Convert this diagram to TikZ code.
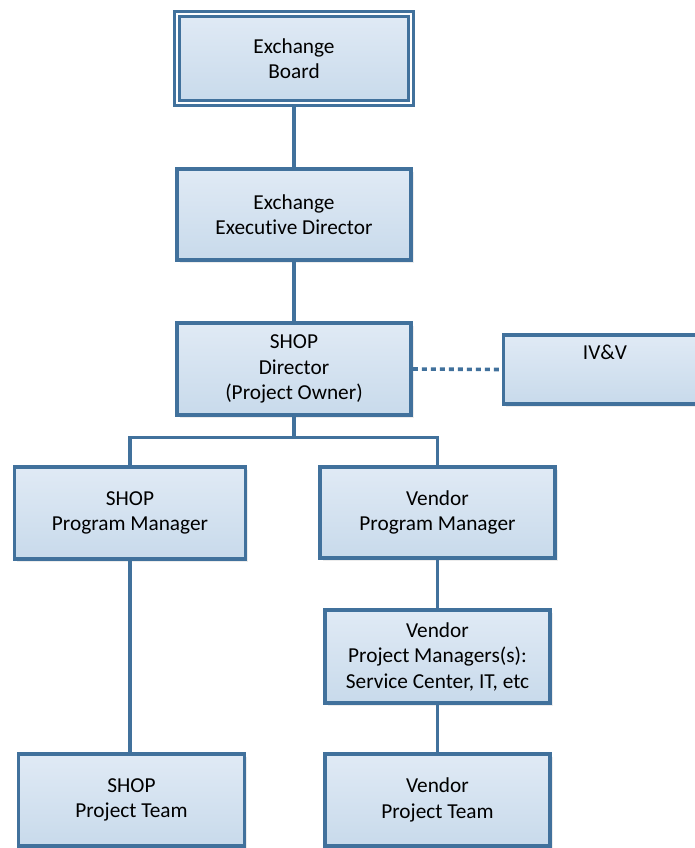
\documentclass[tikz,border=0pt]{standalone}
\usepackage{fontspec}
\setmainfont[Ligatures=NoCommon]{Carlito}
\usetikzlibrary{shadows}
\definecolor{orgline}{HTML}{41719C}
\definecolor{orgtop}{HTML}{E0EAF5}
\definecolor{orgbot}{HTML}{C8DAEB}

\begin{document}
\begin{tikzpicture}[x=1pt, y=-1pt,
      every node/.style={font=\fontsize{21.3}{25.5}\selectfont},
      unit/.style={draw=orgline, line width=3.8pt, top color=orgtop, bottom color=orgbot,
        align=center, inner sep=0pt,
        drop shadow={opacity=0.15, shadow xshift=2.5pt, shadow yshift=-2.5pt}},
      board/.style={line width=3pt, double=white, double distance=1.5pt},
      link/.style={draw=orgline, line width=3.6pt},
    ]
    \useasboundingbox (0,0) rectangle (694,848);

    % chain of command
    \node[unit, board, minimum width=234, minimum height=89] (board) at (294,58.5) {Exchange\\Board};
    \node[unit, minimum width=234, minimum height=91] (exec) at (294,214.5) {Exchange\\Executive Director};
    \node[unit, minimum width=234, minimum height=92] (dir) at (294,369) {SHOP\\Director\\(Project Owner)};
    \node[unit, minimum width=203, minimum height=69,
      label={[anchor=north, yshift=-8pt]north:IV\&V}] (ivv) at (605,369.5) {};

    % program level
    \node[unit, minimum width=231, minimum height=92] (shoppm) at (130,513) {SHOP\\Program Manager};
    \node[unit, minimum width=235, minimum height=91] (vendpm) at (437.5,512.5) {Vendor\\Program Manager};
    \node[unit, minimum width=225, minimum height=93] (vendpms) at (437.5,656.5) {Vendor\\Project Managers(s):\\Service Center, IT, etc};

    % teams
    \node[unit, minimum width=226, minimum height=92] (shopteam) at (131.5,800) {SHOP\\Project Team};
    \node[unit, minimum width=225, minimum height=92] (vendteam) at (437.5,800) {Vendor\\Project Team};

    \coordinate (bus) at (294,437.5);
    \draw[link] (board) -- (exec);
    \draw[link] (exec) -- (dir);
    \draw[link] (dir.south) -- (bus);
    \draw[link] (shoppm.north) |- (bus) -| (vendpm.north);
    \draw[link, dash pattern=on 5pt off 4pt] (dir.east) -- (ivv.west);
    \draw[link] (shoppm.south) -- (shoppm.south |- shopteam.north);
    \draw[link] (vendpm) -- (vendpms);
    \draw[link] (vendpms) -- (vendteam);
  \end{tikzpicture}
\end{document}
